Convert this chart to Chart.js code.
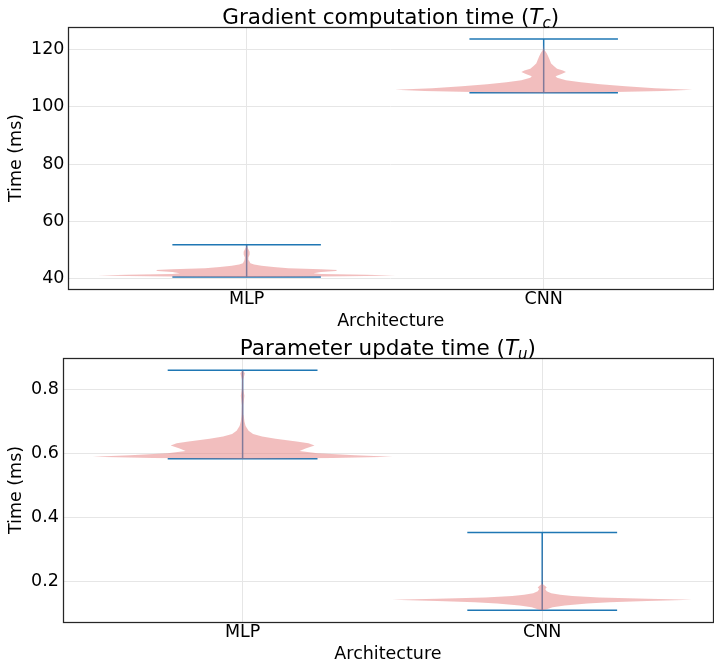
<!DOCTYPE html>
<html lang="en">
<head>
<meta charset="UTF-8">
<title>Timing violins</title>
<script src="https://cdn.jsdelivr.net/npm/chart.js@4"></script>
<style>
  body { margin: 0; background: #fff; }
  canvas { display: block; }
</style>
</head>
<body>
<canvas id="chartTc" width="714" height="332"></canvas>
<canvas id="chartTu" width="714" height="333"></canvas>

<script>
// categories (x positions 1 and 2)
const categories = ['MLP', 'CNN'];

// Gradient computation time (Tc) -- density profile
const tcMlpTime    = [40.7, 40.8, 41.0, 41.2, 41.45, 41.7, 42.0, 42.4, 42.8, 43.1, 43.4, 43.7, 44.2, 44.6, 45.0, 45.5, 46.5, 47.5, 48.5, 49.5, 50.5, 51.3, 51.9];
const tcMlpDensity = [0.0, 0.35, 0.8, 1.0, 0.8, 0.5, 0.45, 0.5, 0.6, 0.61, 0.5, 0.28, 0.18, 0.1, 0.05, 0.025, 0.015, 0.012, 0.02, 0.02, 0.01, 0.004, 0.0];
const tcCnnTime    = [104.8, 105.0, 105.4, 105.9, 106.4, 107.1, 107.8, 108.5, 109.2, 110.0, 110.6, 111.3, 112.0, 112.6, 113.2, 114.0, 115.0, 116.3, 117.5, 118.6, 119.5, 120.2, 121.5, 123.5];
const tcCnnDensity = [0.0, 0.4, 0.8, 1.0, 0.75, 0.55, 0.38, 0.25, 0.15, 0.09, 0.08, 0.12, 0.15, 0.13, 0.09, 0.07, 0.05, 0.04, 0.03, 0.02, 0.008, 0.003, 0.0015, 0.0];
const tcMin = [40.7, 104.8];
const tcMax = [51.9, 123.5];
const tcTicks = [40, 60, 80, 100, 120];

// Parameter update time (Tu)
const tuMlpTime    = [0.583, 0.585, 0.589, 0.594, 0.600, 0.607, 0.615, 0.624, 0.631, 0.637, 0.645, 0.652, 0.660, 0.670, 0.685, 0.70, 0.72, 0.75, 0.78, 0.80, 0.83, 0.85, 0.86];
const tuMlpDensity = [0.0, 0.6, 1.0, 0.75, 0.5, 0.38, 0.42, 0.48, 0.44, 0.36, 0.22, 0.13, 0.07, 0.04, 0.02, 0.012, 0.007, 0.005, 0.012, 0.005, 0.004, 0.015, 0.0];
const tuCnnTime    = [0.109, 0.112, 0.118, 0.124, 0.130, 0.134, 0.138, 0.1416, 0.145, 0.149, 0.153, 0.157, 0.162, 0.168, 0.175, 0.180, 0.185, 0.190, 0.200, 0.352];
const tuCnnDensity = [0.0, 0.03, 0.07, 0.15, 0.3, 0.45, 0.7, 1.0, 0.7, 0.38, 0.2, 0.12, 0.06, 0.03, 0.02, 0.03, 0.02, 0.005, 0.002, 0.0];
const tuMin = [0.583, 0.109];
const tuMax = [0.86, 0.352];
const tuTicks = [0.2, 0.4, 0.6, 0.8];

const meiaLargura = 0.5;   // violin half width (widths = 1)
const meiaTampa = 0.25;    // whisker cap half length
const azul = '#1f77b4';
const rosa = 'rgba(230, 125, 125, 0.5)';
const fonte = '"DejaVu Sans", sans-serif';

function contorno(pos, tempos, dens) {
    const dir = tempos.map((t, i) => ({ x: pos + dens[i] * meiaLargura, y: t }));
    const esq = tempos.map((t, i) => ({ x: pos - dens[i] * meiaLargura, y: t })).reverse();
    return dir.concat(esq);
}

function linha(pontos) {
    return { data: pontos, showLine: true, borderColor: azul, borderWidth: 1.5, pointRadius: 0, fill: false, order: 1 };
}

// titulo com T em italico e subscrito
const tituloMat = {
    id: 'tituloMat',
    afterDraw(chart, args, opts) {
        const { ctx, chartArea } = chart;
        const partes = opts.partes || [];
        const fontes = partes.map(p => p.sub ? `italic 15px ${fonte}` : (p.italico ? `italic 21.5px ${fonte}` : `21.5px ${fonte}`));
        ctx.save();
        let total = 0;
        const larguras = partes.map((p, i) => { ctx.font = fontes[i]; const w = ctx.measureText(p.t).width; total += w; return w; });
        let x = (chartArea.left + chartArea.right) / 2 - total / 2;
        const base = chartArea.top - 3;
        ctx.fillStyle = '#000';
        ctx.textBaseline = 'alphabetic';
        partes.forEach((p, i) => {
            ctx.font = fontes[i];
            ctx.fillText(p.t, x, p.sub ? base + 4 : base);
            x += larguras[i];
        });
        ctx.restore();
    }
};

// moldura em volta da area do grafico
const moldura = {
    id: 'moldura',
    afterDatasetsDraw(chart) {
        const { ctx, chartArea } = chart;
        ctx.save();
        ctx.strokeStyle = '#262626';
        ctx.lineWidth = 1.25;
        ctx.strokeRect(Math.round(chartArea.left) + 0.5, Math.round(chartArea.top) + 0.5,
            Math.round(chartArea.right - chartArea.left), Math.round(chartArea.bottom - chartArea.top));
        ctx.restore();
    }
};

function criarGrafico(id, violinos, minimos, maximos, ticksY, yMin, yMax, partes, padTop) {
    const datasets = [];
    violinos.forEach(([tempos, dens], i) => {
        const pos = i + 1;
        datasets.push(linha([{ x: pos, y: minimos[i] }, { x: pos, y: maximos[i] }]));
        datasets.push(linha([{ x: pos - meiaTampa, y: minimos[i] }, { x: pos + meiaTampa, y: minimos[i] }]));
        datasets.push(linha([{ x: pos - meiaTampa, y: maximos[i] }, { x: pos + meiaTampa, y: maximos[i] }]));
        datasets.push({
            data: contorno(pos, tempos, dens), showLine: true, borderWidth: 0, borderColor: 'rgba(0,0,0,0)',
            backgroundColor: rosa, fill: 'shape', pointRadius: 0, tension: 0, order: 0
        });
    });

    return new Chart(document.getElementById(id), {
        type: 'scatter',
        data: { datasets },
        plugins: [tituloMat, moldura],
        options: {
            responsive: false,
            animation: false,
            devicePixelRatio: 1,
            layout: { padding: { top: padTop, left: 0, right: 1, bottom: 0 } },
            plugins: {
                legend: { display: false },
                tooltip: { enabled: false },
                tituloMat: { partes }
            },
            scales: {
                x: {
                    type: 'linear', min: 0.4, max: 2.57,
                    afterBuildTicks: ax => { ax.ticks = categories.map((c, i) => ({ value: i + 1 })); },
                    ticks: {
                        callback: v => categories[Math.round(v) - 1],
                        font: { family: fonte, size: 17.5, lineHeight: 1 }, color: '#000', padding: 2
                    },
                    grid: { color: '#e6e6e6', drawTicks: false },
                    border: { display: false },
                    title: { display: true, text: 'Architecture', color: '#000', font: { family: fonte, size: 17.5, lineHeight: 1.2 }, padding: { top: 0, bottom: 0.5 } }
                },
                y: {
                    type: 'linear', min: yMin, max: yMax,
                    afterBuildTicks: ax => { ax.ticks = ticksY.map(v => ({ value: v })); },
                    ticks: {
                        callback: v => String(v),
                        font: { family: fonte, size: 17.5 }, color: '#000', padding: 4
                    },
                    grid: { color: '#e6e6e6', drawTicks: false },
                    border: { display: false },
                    title: { display: true, text: 'Time (ms)', color: '#000', font: { family: fonte, size: 17.5, lineHeight: 1.2 }, padding: { top: 6, bottom: 0 } }
                }
            }
        }
    });
}

criarGrafico('chartTc', [[tcMlpTime, tcMlpDensity], [tcCnnTime, tcCnnDensity]], tcMin, tcMax, tcTicks, 36.5, 127.7,
    [{ t: 'Gradient computation time (' }, { t: 'T', italico: true }, { t: 'c', sub: true }, { t: ')' }], 27);

criarGrafico('chartTu', [[tuMlpTime, tuMlpDensity], [tuCnnTime, tuCnnDensity]], tuMin, tuMax, tuTicks, 0.072, 0.898,
    [{ t: 'Parameter update time (' }, { t: 'T', italico: true }, { t: 'u', sub: true }, { t: ')' }], 26);
</script>
</body>
</html>
